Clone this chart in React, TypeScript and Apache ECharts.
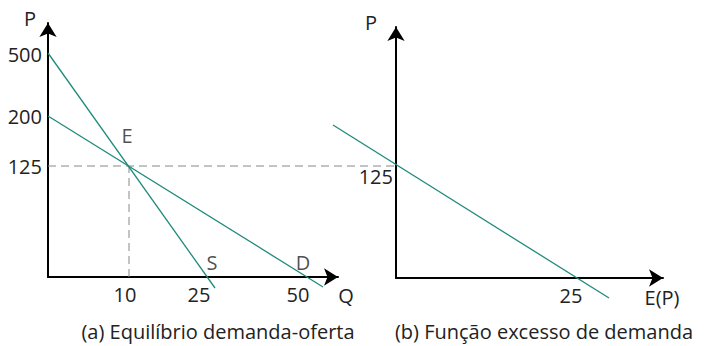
import React, { useEffect, useRef } from "react";
import * as echarts from "echarts";

// Schematic diagram coordinates (the reference is a sketch, not to scale)
const pTickLabels = ["125", "200", "500"];
const pTickPos = [111, 161, 223];
const qTickLabels = ["10", "25", "50"];
const qTickPos = [77, 151, 250];

// segments: [x1, y1, x2, y2]
const supplyLine = [0, 224, 167, -11];
const demandLine = [0, 161, 275, -10];
const hDashed = [0, 111, 348, 111];
const vDashed = [81, 0, 81, 111];
const curveLabels = [
  { name: "E", value: [79, 142] },
  { name: "S", value: [164, 15] },
  { name: "D", value: [255, 15] },
];

const excessLine = [-63, 153, 213, -20];
const epYTickLabels = ["125"];
const epYTickPos = [112];
const epXTickLabels = ["25"];
const epXTickPos = [175];

const FONT = "Open Sans";
const TEXT = "#222";
const TEAL = "#1f8a7c";
const FS = 20;

export default function App() {
  const ref = useRef<HTMLDivElement>(null);
  useEffect(() => {
    if (!ref.current) return;
    const chart = echarts.init(ref.current, null, { renderer: "svg" });
    const axisLine = {
      show: true,
      onZero: false,
      symbol: ["none", "arrow"],
      symbolSize: [13, 14],
      lineStyle: { color: "#000", width: 2 },
    };
    const lbl = (labels: string[], pos: number[]) => (v: number) => {
      const i = pos.indexOf(v);
      return i >= 0 ? labels[i] : "";
    };
    const segSeries = (
      gi: number,
      seg: number[],
      style: any,
      z: number
    ) => ({
      type: "custom",
      xAxisIndex: gi,
      yAxisIndex: gi,
      clip: false,
      silent: true,
      z,
      data: [seg],
      renderItem: (_p: any, api: any) => {
        const a = api.coord([api.value(0), api.value(1)]);
        const b = api.coord([api.value(2), api.value(3)]);
        return {
          type: "line",
          shape: { x1: a[0], y1: a[1], x2: b[0], y2: b[1] },
          style: { fill: null, ...style },
        };
      },
    });
    const dash = { stroke: "#888", lineWidth: 1, lineDash: [8, 5] };
    const teal = { stroke: TEAL, lineWidth: 1.3 };
    const axLabel = { color: TEXT, fontSize: FS, fontFamily: FONT };
    const option: any = {
      animation: false,
      textStyle: { fontFamily: FONT },
      grid: [
        { left: 48, top: 23, width: 290, height: 254, outerBoundsMode: "none" },
        { left: 396, top: 27, width: 267, height: 251, outerBoundsMode: "none" },
      ],
      xAxis: [
        {
          gridIndex: 0,
          type: "value",
          min: 0,
          max: 290,
          splitLine: { show: false },
          axisTick: { show: false },
          axisLine,
          axisLabel: {
            customValues: qTickPos,
            formatter: lbl(qTickLabels, qTickPos),
            margin: 7,
            ...axLabel,
          },
        },
        {
          gridIndex: 1,
          type: "value",
          min: 0,
          max: 267,
          splitLine: { show: false },
          axisTick: { show: false },
          axisLine,
          axisLabel: {
            customValues: epXTickPos,
            formatter: lbl(epXTickLabels, epXTickPos),
            margin: 7,
            ...axLabel,
          },
        },
      ],
      yAxis: [
        {
          gridIndex: 0,
          type: "value",
          min: 0,
          max: 254,
          splitLine: { show: false },
          axisTick: { show: false },
          axisLine,
          axisLabel: {
            customValues: pTickPos,
            formatter: lbl(pTickLabels, pTickPos),
            margin: 6,
            ...axLabel,
          },
        },
        {
          gridIndex: 1,
          type: "value",
          min: 0,
          max: 251,
          splitLine: { show: false },
          axisTick: { show: false },
          axisLine,
          axisLabel: {
            customValues: epYTickPos,
            formatter: lbl(epYTickLabels, epYTickPos),
            margin: 3,
            verticalAlign: "top",
            ...axLabel,
          },
        },
      ],
      series: [
        segSeries(0, hDashed, dash, 1),
        segSeries(0, vDashed, dash, 1),
        segSeries(0, supplyLine, teal, 3),
        segSeries(0, demandLine, teal, 3),
        segSeries(1, excessLine, teal, 3),
        {
          type: "scatter",
          xAxisIndex: 0,
          yAxisIndex: 0,
          data: curveLabels,
          symbolSize: 0,
          silent: true,
          clip: false,
          label: {
            show: true,
            position: "inside",
            formatter: (p: any) => p.name,
            ...axLabel,
          },
        },
      ],
      graphic: [
        { type: "text", x: 30, y: 18, style: { text: "P", fill: TEXT, font: `${FS}px ${FONT}`, align: "center", verticalAlign: "middle" } },
        { type: "text", x: 346, y: 295, style: { text: "Q", fill: TEXT, font: `${FS}px ${FONT}`, align: "center", verticalAlign: "middle" } },
        { type: "text", x: 371, y: 22, style: { text: "P", fill: TEXT, font: `${FS}px ${FONT}`, align: "center", verticalAlign: "middle" } },
        { type: "text", x: 662, y: 297, style: { text: "E(P)", fill: TEXT, font: `${FS}px ${FONT}`, align: "center", verticalAlign: "middle" } },
        { type: "text", x: 218, y: 331, style: { text: "(a) Equilíbrio demanda-oferta", fill: TEXT, font: `${FS}px ${FONT}`, align: "center", verticalAlign: "middle" } },
        { type: "text", x: 544, y: 331, style: { text: "(b) Função excesso de demanda", fill: TEXT, font: `${FS}px ${FONT}`, align: "center", verticalAlign: "middle" } },
      ],
    };
    chart.setOption(option);
    return () => chart.dispose();
  }, []);
  return (
    <div
      ref={ref}
      style={{ position: "fixed", left: 0, top: 0, width: 705, height: 346, background: "#fff" }}
    />
  );
}
